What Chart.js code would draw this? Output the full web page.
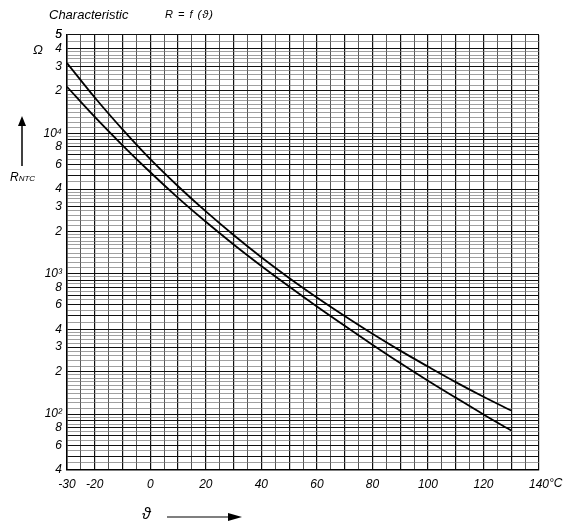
<!DOCTYPE html>
<html>
<head>
<meta charset="utf-8">
<script src="https://cdn.jsdelivr.net/npm/chart.js@4"></script>
<style>
    body { margin: 0; background: #fff; }
    #wrap { position: relative; width: 563px; height: 525px; }
    canvas { position: absolute; left: 0; top: 0; }
    .lbl { position: absolute; font-family: 'Liberation Sans', Arial, sans-serif; font-style: italic; color: #000; white-space: nowrap; }
</style>
</head>
<body>
<div id="wrap">
    <canvas id="chart" width="563" height="525"></canvas>
    <div class="lbl" style="left:49px; top:7px; font-size:13px;">Characteristic</div>
    <div class="lbl" style="left:165px; top:8px; font-size:11px; letter-spacing:1px;">R = f (ϑ)</div>
    <div class="lbl" style="left:33px; top:42px; font-size:13px;">Ω</div>
    <div class="lbl" style="left:10px; top:170px; font-size:12px;">R<span style="font-size:8px;">NTC</span></div>
    <div class="lbl" style="left:549px; top:476px; font-size:12px;">°C</div>
    <div class="lbl" style="left:142px; top:505px; font-size:16px;">ϑ</div>
    <svg style="position:absolute; left:0; top:0;" width="563" height="525">
        <line x1="22" y1="166" x2="22" y2="124" stroke="#000" stroke-width="1.5"/>
        <polygon points="18,126 26,126 22,116" fill="#000"/>
        <line x1="167" y1="517" x2="230" y2="517" stroke="#000" stroke-width="1.2"/>
        <polygon points="228,513 242,517 228,521" fill="#000"/>
    </svg>
</div>
<script>
document.addEventListener('DOMContentLoaded', () => {
    // temperatures in °C and the two resistance curves in ohm
    const temps = [-30, -20, -10, 0, 10, 20, 30, 40, 50, 60, 70, 80, 90, 100, 110, 120, 130];
    const rUpper = [31600, 17950, 10640, 6530, 4190, 2773, 1884, 1309, 931, 676, 499, 373, 283, 218, 169, 133, 106];
    const rLower = [21400, 13060, 8200, 5270, 3467, 2339, 1614, 1135, 809, 583, 425, 312, 231, 173, 131, 99.5, 76.4];

    const xTickValues = [-30, -20, 0, 20, 40, 60, 80, 100, 120, 140];
    const xTickLabels = ['-30', '-20', '0', '20', '40', '60', '80', '100', '120', '140'];

    const yTickValues = [50000, 40000, 30000, 20000, 10000, 8000, 6000, 4000, 3000, 2000,
        1000, 800, 600, 400, 300, 200, 100, 80, 60, 40];
    const yTickLabels = ['5', '4', '3', '2', '10⁴', '8', '6', '4', '3', '2',
        '10³', '8', '6', '4', '3', '2', '10²', '8', '6', '4'];

    // mantissas of the log paper lines inside one decade
    const yMantissas = [1, 1.1, 1.2, 1.3, 1.4, 1.5, 1.6, 1.7, 1.8, 1.9,
        2, 2.2, 2.4, 2.6, 2.8, 3, 3.2, 3.4, 3.6, 3.8, 4, 4.5, 5, 5.5, 6, 6.5, 7, 7.5, 8, 8.5, 9, 9.5];
    const decades = [10, 100, 1000, 10000];

    const yGrid = [];
    decades.forEach(d => {
        yMantissas.forEach(m => {
            const v = Math.round(m * d * 100) / 100;
            if (v >= 40 && v <= 50000) yGrid.push(v);
        });
    });
    yGrid.push(50000);

    const isMajorY = v => {
        const m = v / Math.pow(10, Math.floor(Math.log10(v) + 1e-9));
        return Math.abs(m - Math.round(m)) < 1e-6;
    };

    const tickFont = { family: "'Liberation Sans', Arial, sans-serif", size: 12, style: 'italic' };

    new Chart(document.getElementById('chart').getContext('2d'), {
        type: 'line',
        data: {
            datasets: [
                {
                    data: temps.map((t, i) => ({ x: t, y: rUpper[i] })),
                    borderColor: '#000',
                    borderWidth: 1.8,
                    pointRadius: 0,
                    cubicInterpolationMode: 'monotone',
                    fill: false
                },
                {
                    data: temps.map((t, i) => ({ x: t, y: rLower[i] })),
                    borderColor: '#000',
                    borderWidth: 1.8,
                    pointRadius: 0,
                    cubicInterpolationMode: 'monotone',
                    fill: false
                }
            ]
        },
        options: {
            responsive: false,
            animation: false,
            layout: { padding: { top: 35, right: 24, left: 0, bottom: 0 } },
            plugins: { legend: { display: false }, tooltip: { enabled: false } },
            scales: {
                x: {
                    type: 'linear',
                    min: -30,
                    max: 140,
                    afterFit: scale => { scale.height = 55; },
                    border: { display: true, color: '#000', width: 1.5 },
                    grid: {
                        drawTicks: false,
                        color: ctx => (ctx.tick && ctx.tick.value % 10 === 0) ? '#111' : '#444',
                        lineWidth: ctx => (ctx.tick && ctx.tick.value % 10 === 0) ? 1.2 : 0.9
                    },
                    ticks: {
                        stepSize: 5,
                        autoSkip: false,
                        maxRotation: 0,
                        padding: 7,
                        color: '#000',
                        font: tickFont,
                        callback: value => {
                            const i = xTickValues.indexOf(value);
                            return i >= 0 ? xTickLabels[i] : '';
                        }
                    }
                },
                y: {
                    type: 'logarithmic',
                    min: 40,
                    max: 50000,
                    afterFit: scale => { scale.width = 67; },
                    afterBuildTicks: scale => {
                        scale.ticks = yGrid.map(v => ({ value: v }));
                    },
                    border: { display: true, color: '#000', width: 1.5 },
                    grid: {
                        drawTicks: false,
                        color: ctx => (ctx.tick && isMajorY(ctx.tick.value)) ? '#111' : '#777',
                        lineWidth: ctx => (ctx.tick && isMajorY(ctx.tick.value)) ? 1.1 : 0.7
                    },
                    ticks: {
                        autoSkip: false,
                        padding: 5,
                        color: '#000',
                        font: tickFont,
                        callback: value => {
                            const i = yTickValues.findIndex(v => Math.abs(v - value) < 1e-6);
                            return i >= 0 ? yTickLabels[i] : '';
                        }
                    }
                }
            }
        }
    });
});
</script>
</body>
</html>
